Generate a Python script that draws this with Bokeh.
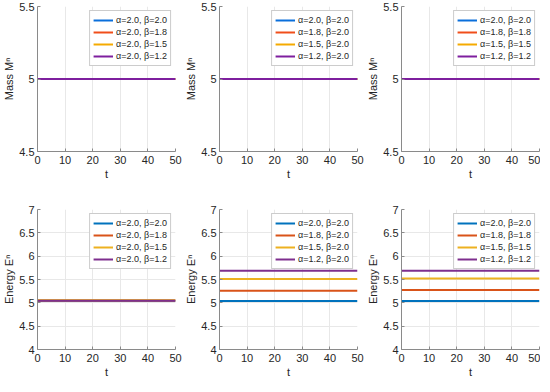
from bokeh.plotting import figure
from bokeh.models import Range1d, FixedTicker, CustomJSTickFormatter
from bokeh.layouts import column, row
from bokeh.embed import file_html
from bokeh.resources import INLINE

# ---- data ----
t_span = [0, 50]
x_ticks = [0, 10, 20, 30, 40, 50]
mass_ticks = [4.5, 5, 5.5]
energy_ticks = [4, 4.5, 5, 5.5, 6, 6.5, 7]

labels_beta = ["α=2.0, β=2.0", "α=2.0, β=1.8", "α=2.0, β=1.5", "α=2.0, β=1.2"]
labels_alpha = ["α=2.0, β=2.0", "α=1.8, β=2.0", "α=1.5, β=2.0", "α=1.2, β=2.0"]
labels_both = ["α=2.0, β=2.0", "α=1.8, β=1.8", "α=1.5, β=1.5", "α=1.2, β=1.2"]

mass_beta = [5.0, 5.0, 5.0, 5.0]
mass_alpha = [5.0, 5.0, 5.0, 5.0]
mass_both = [5.0, 5.0, 5.0, 5.0]

energy_beta = [5.045, 5.05, 5.057, 5.045]
energy_alpha = [5.04, 5.26, 5.51, 5.69]
energy_both = [5.04, 5.275, 5.52, 5.685]

colors_top = ["#0A6FDB", "#F04E1A", "#F5AA00", "#7E1F9E"]
colors_bottom = ["#0072BD", "#D95319", "#EDB120", "#7E2F8E"]

FONT = "Liberation Sans"


def make_panel(values, labels, colors, ylabel, yr, yticks, lw, width, right_border, height, top_border, bottom_border):
    p = figure(
        width=width, height=height,
        x_range=Range1d(0, 50), y_range=Range1d(*yr),
        output_backend="svg", toolbar_location=None,
        min_border_left=29, min_border_right=right_border,
        min_border_top=top_border, min_border_bottom=bottom_border,
    )
    p.outline_line_color = None
    p.background_fill_color = "white"
    p.border_fill_color = "white"
    for v, lab, c in zip(values, labels, colors):
        p.line(t_span, [v, v], line_color=c, line_width=lw, legend_label=lab)

    fmt = CustomJSTickFormatter(code="return String(Math.round(tick*1000)/1000);")
    p.xaxis.ticker = FixedTicker(ticks=x_ticks)
    p.yaxis.ticker = FixedTicker(ticks=yticks)
    p.xaxis.formatter = fmt
    p.yaxis.formatter = fmt
    p.xaxis.axis_label = "t"
    p.yaxis.axis_label = ylabel
    for ax in (p.xaxis, p.yaxis):
        ax.axis_line_color = "#8a8a8a"
        ax.major_tick_line_color = "#8a8a8a"
        ax.major_tick_in = 3
        ax.major_tick_out = 0
        ax.minor_tick_line_color = None
        ax.major_label_text_font = FONT
        ax.major_label_text_font_size = "11px"
        ax.major_label_text_color = "#262626"
        ax.axis_label_text_font = FONT
        ax.axis_label_text_font_size = "11px"
        ax.axis_label_text_font_style = "normal"
        ax.axis_label_text_color = "#262626"
    p.xaxis.major_label_standoff = 4
    p.xaxis.axis_label_standoff = 1
    p.yaxis.major_label_standoff = 3
    p.yaxis.axis_label_standoff = 1

    p.xgrid.ticker = FixedTicker(ticks=x_ticks)
    p.ygrid.ticker = FixedTicker(ticks=yticks)
    p.grid.grid_line_color = "#e8e8e8"
    p.grid.grid_line_width = 1

    lg = p.legend[0]
    lg.location = "top_right"
    lg.margin = 4
    lg.padding = 3
    lg.spacing = 0
    lg.label_standoff = 3
    lg.glyph_width = 20
    lg.glyph_height = 12
    lg.label_height = 12
    lg.label_text_font = FONT
    lg.label_text_font_size = "9px"
    lg.label_text_color = "#262626"
    lg.border_line_color = "#9a9a9a"
    lg.border_line_width = 1
    lg.background_fill_color = "white"
    lg.background_fill_alpha = 1.0
    return p


mass_label = "Mass Mⁿ"
energy_label = "Energy Eⁿ"
m_rng = (4.5, 5.5)
e_rng = (4, 7)

p1 = make_panel(mass_beta, labels_beta, colors_top, mass_label, m_rng, mass_ticks, 2, 182, 7, 197, 6, 46)
p2 = make_panel(mass_alpha, labels_alpha, colors_top, mass_label, m_rng, mass_ticks, 2, 182, 7, 197, 6, 46)
p3 = make_panel(mass_both, labels_both, colors_top, mass_label, m_rng, mass_ticks, 2, 176, 1, 197, 6, 46)
p4 = make_panel(energy_beta, labels_beta, colors_bottom, energy_label, e_rng, energy_ticks, 2, 182, 7, 183, 12, 30)
p5 = make_panel(energy_alpha, labels_alpha, colors_bottom, energy_label, e_rng, energy_ticks, 2, 182, 7, 183, 12, 30)
p6 = make_panel(energy_both, labels_both, colors_bottom, energy_label, e_rng, energy_ticks, 2, 176, 1, 183, 12, 30)

layout = column(row(p1, p2, p3), row(p4, p5, p6))

open("out.html", "w").write(file_html(layout, INLINE))
